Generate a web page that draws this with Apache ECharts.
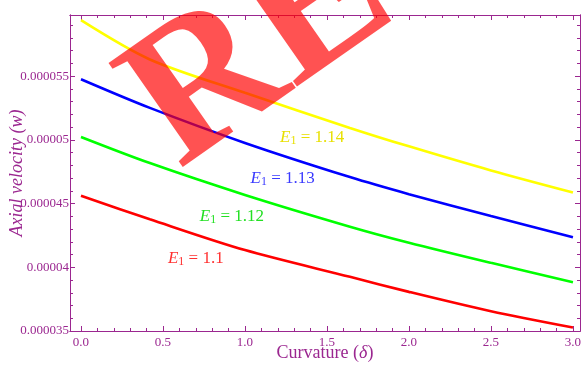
<!DOCTYPE html>
<html>
<head>
<meta charset="utf-8">
<script src="https://cdn.jsdelivr.net/npm/echarts@6/dist/echarts.min.js"></script>
<style>html,body{margin:0;padding:0;background:#fff}#c{width:581px;height:367px}</style>
</head>
<body>
<div id="c"></div>
<script>
// ---- data ----
const curvature = [0, 0.42, 1.0, 1.64, 2.0, 2.5, 3.0];
const wE114 = [5.939e-5, 5.631e-5, 5.369e-5, 5.094e-5, 4.949e-5, 4.760e-5, 4.587e-5];
const wE113 = [5.476e-5, 5.251e-5, 4.976e-5, 4.708e-5, 4.574e-5, 4.403e-5, 4.235e-5];
const wE112 = [5.023e-5, 4.818e-5, 4.568e-5, 4.319e-5, 4.193e-5, 4.035e-5, 3.883e-5];
const wE110 = [4.561e-5, 4.377e-5, 4.135e-5, 3.925e-5, 3.807e-5, 3.655e-5, 3.527e-5];
const seriesNames = ['E1 = 1.14', 'E1 = 1.13', 'E1 = 1.12', 'E1 = 1.1'];
const labelValues = ['1.14', '1.13', '1.12', '1.1'];
const labelCoords = [[1.41, 5.017e-5], [1.23, 4.694e-5], [0.92, 4.395e-5], [0.70, 4.065e-5]];

const xTicks = [0, 0.5, 1.0, 1.5, 2.0, 2.5, 3.0];
const xTickLabels = ['0.0', '0.5', '1.0', '1.5', '2.0', '2.5', '3.0'];
const xMinorTicks = [0.1,0.2,0.3,0.4,0.6,0.7,0.8,0.9,1.1,1.2,1.3,1.4,1.6,1.7,1.8,1.9,2.1,2.2,2.3,2.4,2.6,2.7,2.8,2.9,3.0];
const yTicks = [0.000035, 0.00004, 0.000045, 0.00005, 0.000055];
const yTickLabels = ['0.000035', '0.00004', '0.000045', '0.00005', '0.000055'];
const yMinorTicks = [0.000036,0.000037,0.000038,0.000039,0.000041,0.000042,0.000043,0.000044,0.000046,0.000047,0.000048,0.000049,0.000051,0.000052,0.000053,0.000054,0.000056,0.000057,0.000058,0.000059];

const xMin = -0.067, xMax = 3.043;
const yMin = 0.000035, yMax = 0.0000598;

const PURPLE = '#9b2790';
const SERIF = 'Liberation Serif';
const colors = ['#ffff00', '#0000ff', '#00ff00', '#ff0000'];
const labelColors = ['#e8e000', '#3a3aff', '#22e022', '#ff3030'];
const tickRich = { t: { color: PURPLE, fontFamily: SERIF, fontSize: 13 } };

function nearestLabel(v, ticks, labels) {
  let best = 0;
  for (let i = 1; i < ticks.length; i++) if (Math.abs(v - ticks[i]) < Math.abs(v - ticks[best])) best = i;
  return Math.abs(v - ticks[best]) < 1e-3 * Math.abs(ticks[1] - ticks[0]) ? '{t|' + labels[best] + '}' : '';
}

function mkX(position, custom, len, showLabel) {
  return {
    type: 'value', position: position, min: xMin, max: xMax,
    axisLine: { show: true, onZero: false, lineStyle: { color: PURPLE, width: 1 } },
    axisTick: { show: true, inside: true, length: len, customValues: custom, lineStyle: { color: PURPLE, width: 1 } },
    axisLabel: showLabel ? {
      show: true, customValues: xTicks, margin: 5, color: PURPLE, fontFamily: SERIF, fontSize: 13, rich: tickRich,
      formatter: v => nearestLabel(v, xTicks, xTickLabels)
    } : { show: false },
    splitLine: { show: false }
  };
}
function mkY(position, custom, len, showLabel) {
  return {
    type: 'value', position: position, min: yMin, max: yMax,
    interval: 0.000005,
    axisLine: { show: true, onZero: false, lineStyle: { color: PURPLE, width: 1 } },
    axisTick: { show: true, inside: true, length: len, customValues: custom, lineStyle: { color: PURPLE, width: 1 } },
    axisLabel: showLabel ? {
      show: true, margin: 1, color: PURPLE, fontFamily: SERIF, fontSize: 13, showMaxLabel: false, rich: tickRich,
      formatter: v => nearestLabel(v, yTicks, yTickLabels)
    } : { show: false },
    splitLine: { show: false }
  };
}

const xAxes = [mkX('bottom', xTicks, 5, true), mkX('bottom', xMinorTicks, 3, false), mkX('top', xTicks, 5, false), mkX('top', xMinorTicks, 3, false)];
xAxes[0].name = '{a|Curvature (}{b|δ}{a|)}';
xAxes[0].nameLocation = 'middle';
xAxes[0].nameGap = 13;
xAxes[0].nameMoveOverlap = false;
xAxes[0].nameTextStyle = {
  color: PURPLE, fontFamily: SERIF, fontSize: 18,
  rich: {
    a: { color: PURPLE, fontFamily: SERIF, fontSize: 18 },
    b: { color: PURPLE, fontFamily: SERIF, fontSize: 18, fontStyle: 'italic' }
  }
};
const yAxes = [mkY('left', yTicks, 5, true), mkY('left', yMinorTicks, 3, false), mkY('right', yTicks, 5, false), mkY('right', yMinorTicks, 3, false)];
yAxes[0].name = 'Axial velocity (w)';
yAxes[0].nameLocation = 'middle';
yAxes[0].nameGap = 44;
yAxes[0].nameMoveOverlap = false;
yAxes[0].nameRotate = 90;
yAxes[0].nameTextStyle = { color: PURPLE, fontFamily: SERIF, fontSize: 18, fontStyle: 'italic' };

const lists = [wE114, wE113, wE112, wE110];
const series = lists.map((vals, i) => ({
  name: seriesNames[i],
  type: 'line',
  xAxisIndex: 0, yAxisIndex: 0,
  smooth: 0.3,
  showSymbol: false,
  symbol: 'none',
  lineStyle: { color: colors[i], width: 2.6 },
  data: curvature.map((x, j) => [x, vals[j]]),
  markPoint: {
    symbol: 'circle', symbolSize: 0, silent: true,
    label: {
      show: true, position: 'inside',
      formatter: '{e|E}{s|1}{t| = ' + labelValues[i] + '}',
      rich: {
        e: { color: labelColors[i], fontFamily: SERIF, fontSize: 17, fontStyle: 'italic' },
        s: { color: labelColors[i], fontFamily: SERIF, fontSize: 12, padding: [6, 0, 0, 0] },
        t: { color: labelColors[i], fontFamily: SERIF, fontSize: 17 }
      }
    },
    data: [{ coord: labelCoords[i] }]
  },
  z: 2
}));

const chart = echarts.init(document.getElementById('c'), null, { renderer: 'canvas' });
chart.setOption({
  animation: false,
  backgroundColor: '#ffffff',
  grid: { left: 70, right: 1, top: 15, bottom: 36, containLabel: false, outerBoundsMode: 'none' },
  xAxis: xAxes,
  yAxis: yAxes,
  series: series,
  graphic: [{
    type: 'text', x: 206, y: 208, rotation: 35 * Math.PI / 180, z: 100, silent: true,
    style: {
      text: 'RE', font: 'bold 195px "Liberation Serif"', fill: 'rgba(255,0,0,0.68)',
      textAlign: 'left', textVerticalAlign: 'bottom', align: 'left', verticalAlign: 'bottom'
    }
  }]
});
</script>
</body>
</html>
